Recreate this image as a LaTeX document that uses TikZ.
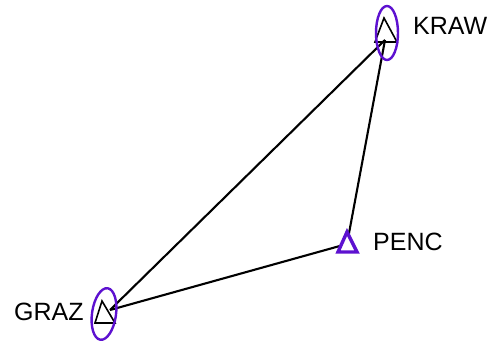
\documentclass[tikz,border=0pt]{standalone}
\usepackage{fontspec}
\setmainfont{Liberation Sans}
\begin{document}
\begin{tikzpicture}[x=1pt,y=-1pt,
  edge/.style={draw=black,line width=2.1pt},
  ell/.style={draw=violet!85!blue,line width=2.4pt},
  tri/.style={draw=black,line width=1.6pt},
  trip/.style={draw=violet!85!blue,line width=3.4pt,fill=white},
  lbl/.style={font=\fontsize{25}{25}\selectfont,inner sep=0pt,anchor=west,draw=black,line width=0.35pt}]
\useasboundingbox (0,0) rectangle (491,344);
\definecolor{violet}{RGB}{110,20,200}
\coordinate (kraw) at (385,40);
\coordinate (penc) at (347,244);
\coordinate (graz) at (110,310);
% edges
\draw[edge] (graz) -- (kraw);
\draw[edge] (graz) -- (penc);
\draw[edge] (penc) -- (kraw);
% KRAW
\draw[tri] (384,18) -- (375,42) -- (397,42) -- cycle;
\draw[ell] (387,33) ellipse [x radius=11, y radius=27];
\node[lbl,draw=none] (tk) at (413,26) {KRAW};
% PENC
\draw[trip] (347,232) -- (338,252) -- (357,252) -- cycle;
\node[lbl,draw=none] (tp) at (373,242) {PENC};
% GRAZ
\draw[tri] (102,301) -- (95,323) -- (115,323) -- cycle;
\draw[ell,rotate around={-8:(104,314)}] (104,314) ellipse [x radius=12, y radius=26];
\node[lbl,draw=none] (tg) at (14,312) {GRAZ};
\end{tikzpicture}
\end{document}
